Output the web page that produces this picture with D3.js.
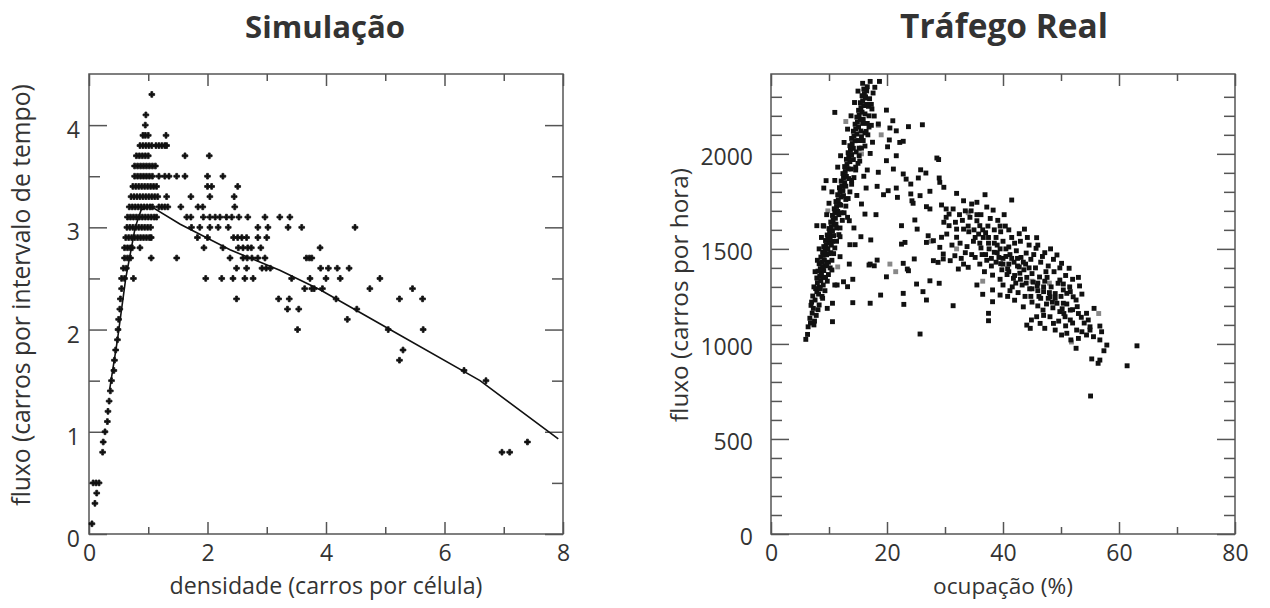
<!DOCTYPE html>
<html>
<head>
<meta charset="utf-8">
<script src="https://cdn.jsdelivr.net/npm/d3@7"></script>
<style>
  body { margin: 0; background: #fff; }
  text { font-family: "Open Sans", "Noto Sans", sans-serif; fill: #333; }
</style>
</head>
<body>
<svg id="chart" width="1270" height="608"></svg>
<script>
(function(d3) {
    'use strict';

    // Simulação: rows of equal flow, each with the densities seen on that row
    var simRows = [
        [4.3, [1.06]],
        [4.1, [0.96]],
        [4.0, [0.95]],
        [3.9, [0.91, 0.95, 1.0, 1.30]],
        [3.8, [0.86, 0.91, 0.96, 1.01, 1.06, 1.13, 1.18, 1.23, 1.28, 1.31]],
        [3.7, [0.80, 0.85, 0.90, 0.95, 1.00, 1.62, 2.03]],
        [3.6, [0.77, 0.82, 0.87, 0.92, 0.97, 1.02, 1.07, 1.12]],
        [3.5, [0.77, 0.82, 0.87, 0.92, 0.97, 1.02, 1.07, 1.18, 1.28, 1.35, 1.48, 1.62, 2.00, 2.26]],
        [3.4, [0.74, 0.79, 0.84, 0.89, 0.94, 0.99, 1.04, 1.09, 1.14, 2.00, 2.07, 2.51]],
        [3.3, [0.71, 0.76, 0.81, 0.86, 0.91, 0.96, 1.01, 1.06, 1.11, 1.16, 1.31, 1.72, 2.04, 2.45]],
        [3.2, [0.68, 0.73, 0.78, 0.83, 0.88, 0.93, 0.98, 1.03, 1.07, 1.18, 1.23, 1.28, 1.33, 1.55, 1.84, 1.92, 2.46]],
        [3.1, [0.65, 0.70, 0.75, 0.80, 0.85, 0.90, 0.95, 1.00, 1.05, 1.10, 1.14, 1.65, 1.72, 1.93, 2.04, 2.13, 2.21, 2.32, 2.41, 2.53, 2.68, 2.97, 3.22, 3.39]],
        [3.0, [0.64, 0.69, 0.74, 0.79, 0.84, 0.89, 0.94, 0.99, 1.04, 1.73, 1.87, 2.04, 2.18, 2.35, 2.85, 3.02, 3.36, 3.59, 4.49]],
        [2.9, [0.62, 0.67, 0.72, 0.77, 0.82, 0.87, 0.92, 0.97, 1.02, 1.05, 1.83, 2.00, 2.44, 2.51, 2.58, 2.66, 2.85, 3.00]],
        [2.8, [0.60, 0.65, 0.70, 0.73, 0.86, 1.94, 2.26, 2.52, 2.60, 2.68, 2.74, 2.90, 3.90]],
        [2.7, [0.60, 0.65, 0.70, 1.05, 1.48, 2.38, 2.60, 2.67, 2.75, 2.85, 2.97, 3.67, 3.72, 3.76]],
        [2.6, [0.58, 0.63, 2.49, 2.66, 2.92, 2.99, 3.06, 3.91, 4.04, 4.19, 4.39]],
        [2.5, [0.55, 0.60, 0.75, 1.97, 2.24, 2.43, 2.63, 2.77, 3.42, 3.73, 4.00, 4.24, 4.91]],
        [2.4, [0.55, 3.64, 3.76, 3.80, 3.94, 4.74, 5.46]],
        [2.3, [0.53, 2.49, 3.20, 3.38, 4.17, 5.24, 5.63]],
        [2.2, [0.52, 3.35, 3.54, 4.52]],
        [2.1, [0.50, 4.36]],
        [2.0, [0.49, 3.52, 5.05, 5.64]],
        [1.9, [0.48]],
        [1.8, [0.45, 5.30]],
        [1.7, [0.43, 5.24]],
        [1.6, [0.42, 6.33]],
        [1.5, [0.38, 6.70]],
        [1.4, [0.36]],
        [1.3, [0.34]],
        [1.2, [0.32]],
        [1.1, [0.31]],
        [1.0, [0.27]],
        [0.9, [0.24, 7.40]],
        [0.8, [0.23, 6.97, 7.10]],
        [0.5, [0.07, 0.12, 0.17]],
        [0.4, [0.13]],
        [0.3, [0.10]],
        [0.1, [0.05]]
    ];

    // Simulação: fitted curve (densidade, fluxo)
    var simCurve = [
        [0.35, 1.42], [0.48, 1.90], [0.62, 2.50], [0.78, 3.00], [0.88, 3.17], [1.03, 3.21],
        [1.54, 3.03], [2.38, 2.78], [3.22, 2.58], [3.90, 2.39], [5.08, 2.00], [6.60, 1.50], [7.92, 0.93]
    ];

    // Tráfego Real: free-flow branch (ocupação %, fluxo)
    var realFree = [
        [6.0, 1024], [6.4, 1090], [6.7, 1135], [7.1, 1162], [7.3, 1187], [6.9, 1203], [7.6, 1231], [7.2, 1252],
        [7.9, 1275], [8.2, 1262], [7.7, 1291], [8.3, 1298], [9.0, 1310], [8.0, 1322], [8.6, 1333], [7.9, 1347],
        [8.4, 1356], [8.7, 1371], [8.1, 1383], [9.1, 1386], [8.5, 1396], [8.9, 1407], [9.4, 1411], [8.3, 1422],
        [8.8, 1431], [9.2, 1441], [8.6, 1457], [9.0, 1466], [9.6, 1469], [8.9, 1482], [9.3, 1489], [9.8, 1501],
        [9.1, 1512], [9.5, 1519], [10.0, 1532], [9.4, 1544], [9.8, 1551], [10.2, 1561], [9.7, 1573], [10.1, 1586],
        [10.6, 1594], [10.0, 1607], [10.4, 1617], [10.9, 1629], [10.3, 1641], [10.7, 1653], [11.1, 1661], [10.6, 1676],
        [11.0, 1689], [11.5, 1697], [10.9, 1711], [11.3, 1723], [11.8, 1734], [11.2, 1749], [11.6, 1758], [12.1, 1773],
        [11.5, 1785], [11.9, 1797], [12.4, 1807], [11.8, 1822], [12.2, 1831], [12.7, 1846], [12.1, 1857], [12.5, 1871],
        [13.0, 1881], [12.4, 1896], [12.8, 1907], [13.3, 1921], [12.7, 1933], [13.1, 1944], [13.6, 1959], [13.0, 1971],
        [13.4, 1981], [13.9, 1996], [13.3, 2006], [13.7, 2019], [14.2, 2029], [13.6, 2043], [14.0, 2054], [14.5, 2069],
        [13.9, 2081], [14.3, 2093], [14.8, 2104], [14.2, 2119], [14.6, 2131], [15.1, 2141], [14.5, 2156], [14.9, 2167],
        [15.4, 2181], [14.8, 2193], [15.2, 2204], [15.7, 2219], [15.1, 2229], [15.5, 2243], [16.0, 2254], [15.4, 2269],
        [15.8, 2279], [16.3, 2293], [15.7, 2306], [16.1, 2317], [16.5, 2331], [16.0, 2341], [16.6, 2353], [15.8, 2371],
        [17.1, 2381], [18.7, 2381], [16.3, 2300], [17.0, 2290], [16.8, 2250], [17.4, 2236], [16.7, 2100], [17.1, 2002],
        [17.5, 2061], [15.9, 2181], [16.9, 2141], [17.8, 2199], [16.2, 2041], [15.3, 1962], [16.0, 1882], [14.8, 1781],
        [16.4, 2118], [17.3, 2150], [15.6, 2090], [15.2, 2030], [14.6, 1930], [13.9, 1860], [12.9, 1760], [12.1, 1690],
        [11.3, 1610], [10.6, 1540], [10.3, 1480], [9.9, 1430], [9.4, 1350], [8.8, 1250], [8.1, 1180], [7.5, 1120],
        [7.4, 1100], [7.8, 1150], [8.3, 1205], [8.9, 1240], [9.3, 1280], [9.7, 1330], [9.9, 1365], [10.2, 1400],
        [10.5, 1440], [10.8, 1475], [11.0, 1505], [11.3, 1540], [11.7, 1575], [11.9, 1610], [12.3, 1650], [12.6, 1690],
        [12.9, 1725], [13.3, 1765], [13.6, 1800], [13.9, 1840], [14.3, 1875], [14.6, 1915], [15.0, 1950], [15.2, 1990],
        [15.6, 2030], [15.9, 2070], [16.2, 2110], [16.6, 2160], [16.9, 2200], [17.3, 2260], [17.6, 2320], [17.9, 2350],
        [6.3, 1050], [6.8, 1110], [7.0, 1220], [7.4, 1300], [7.6, 1380], [8.0, 1440], [8.3, 1500], [8.7, 1560],
        [9.1, 1620], [9.6, 1680], [10.0, 1740], [10.5, 1800], [11.0, 1860], [11.5, 1930], [12.0, 1990], [12.6, 2060],
        [13.2, 2130], [13.8, 2200], [14.4, 2270], [15.0, 2330], [8.5, 1290], [9.0, 1350], [9.6, 1420], [10.0, 1475],
        [10.4, 1520], [10.8, 1570], [11.2, 1630], [11.7, 1680], [12.0, 1730], [12.5, 1780], [12.9, 1830], [13.4, 1870],
        [13.8, 1920], [14.2, 1970], [14.7, 2010], [15.1, 2070], [15.5, 2120], [15.8, 2160], [16.2, 2210], [16.5, 2260]
    ];

    // Tráfego Real: scattered transition points
    var realMid = [
        [11.0, 2218], [19.9, 2230], [21.0, 2174], [18.5, 2157], [20.5, 2136], [21.6, 2121], [23.7, 2143], [26.1, 2153],
        [20.4, 2073], [22.2, 2060], [22.8, 2066], [20.1, 2037], [21.6, 1990], [19.9, 1964], [28.6, 1978], [28.9, 1970],
        [16.6, 1915], [18.5, 1903], [21.1, 1920], [22.8, 1894], [25.8, 1916], [26.7, 1899], [23.3, 1867], [24.1, 1841],
        [25.4, 1873], [29.0, 1873], [29.1, 1850], [29.8, 1824], [9.5, 1859], [9.1, 1820], [16.4, 1820], [18.3, 1829],
        [21.6, 1820], [20.2, 1806], [19.4, 1785], [24.1, 1789], [24.3, 1753], [25.7, 1780], [27.4, 1803], [21.8, 1771],
        [24.5, 1740], [26.8, 1722], [27.4, 1710], [29.4, 1731], [30.2, 1710], [15.6, 1736], [16.2, 1683], [18.1, 1680],
        [13.2, 1666], [13.5, 1648], [24.8, 1652], [7.9, 1622], [9.0, 1622], [14.3, 1610], [22.5, 1622], [25.2, 1604],
        [27.1, 1569], [28.0, 1543], [11.9, 1564], [15.5, 1564], [17.2, 1547], [13.6, 1522], [14.5, 1522], [22.5, 1525],
        [23.1, 1534], [26.8, 1534], [11.9, 1459], [18.3, 1441], [17.8, 1411], [17.1, 1420], [13.5, 1420], [22.8, 1424],
        [23.5, 1394], [24.7, 1447], [28.0, 1438], [28.8, 1429], [16.9, 1415], [10.5, 1389], [23.7, 1385], [19.9, 1353],
        [14.1, 1340], [12.5, 1327], [11.4, 1310], [13.2, 1301], [25.1, 1315], [26.2, 1275], [26.8, 1231], [27.4, 1332],
        [29.0, 1319], [22.8, 1266], [22.9, 1208], [18.9, 1257], [14.1, 1217], [17.1, 1214], [10.6, 1214], [9.7, 1187],
        [10.6, 1117], [25.7, 1052], [11.0, 1310]
    ];

    // Tráfego Real: congested branch
    var realCongested = [
        [31.4, 1710], [30.7, 1683], [32.0, 1792], [33.2, 1753], [34.6, 1736], [35.5, 1745], [36.9, 1785], [38.3, 1704],
        [41.5, 1757], [30.2, 1666], [29.8, 1640], [30.7, 1622], [34.3, 1666], [35.5, 1648], [36.0, 1622], [32.0, 1604],
        [33.2, 1604], [32.0, 1561], [29.4, 1561], [30.3, 1578], [29.1, 1508], [29.7, 1473], [31.2, 1520], [32.6, 1530],
        [33.8, 1512], [34.9, 1540], [36.2, 1505], [37.5, 1530], [38.8, 1560], [39.6, 1590], [40.4, 1620], [37.0, 1585],
        [35.8, 1578], [34.1, 1590], [43.7, 1604], [45.8, 1559], [45.7, 1503], [39.1, 1650], [40.2, 1680], [37.8, 1660],
        [29.7, 1447], [30.9, 1438], [31.7, 1464], [32.3, 1394], [33.2, 1420], [34.0, 1403], [35.2, 1455], [36.4, 1470],
        [37.2, 1440], [38.5, 1482], [39.3, 1455], [40.5, 1500], [41.2, 1470], [42.3, 1490], [43.1, 1455], [44.0, 1478],
        [38.0, 1410], [39.6, 1422], [40.8, 1395], [41.9, 1430], [42.8, 1405], [43.9, 1420], [44.8, 1445], [45.6, 1400],
        [46.5, 1430], [36.8, 1380], [38.2, 1362], [39.5, 1340], [40.7, 1365], [41.8, 1345], [42.9, 1372], [44.1, 1350],
        [45.2, 1325], [46.3, 1352], [47.4, 1380], [48.7, 1445], [49.3, 1468], [50.1, 1424], [51.4, 1398], [43.3, 1310],
        [44.6, 1290], [45.9, 1305], [47.0, 1275], [48.1, 1248], [49.3, 1214], [50.4, 1214], [51.6, 1178], [51.0, 1266],
        [52.1, 1248], [50.4, 1284], [49.5, 1319], [48.3, 1300], [47.2, 1330], [49.8, 1336], [50.4, 1315], [53.2, 1305],
        [53.6, 1262], [51.6, 1275], [52.6, 1231], [52.8, 1196], [46.9, 1178], [45.8, 1143], [44.9, 1126], [44.1, 1099],
        [46.4, 1108], [47.2, 1082], [44.7, 1082], [48.1, 1143], [49.8, 1170], [50.7, 1143], [51.6, 1126], [48.7, 1108],
        [49.0, 1073], [50.1, 1047], [51.0, 1056], [52.7, 1073], [53.6, 1064], [53.0, 1029], [51.7, 1021], [52.6, 977],
        [54.4, 1047], [55.0, 1073], [55.6, 1038], [55.7, 1187], [54.4, 1161], [54.7, 1126], [56.7, 1094], [57.0, 1064],
        [56.7, 1021], [57.9, 994], [57.4, 964], [55.3, 921], [56.7, 915], [56.4, 898], [63.1, 990], [61.4, 885],
        [55.1, 726], [35.5, 1310], [36.5, 1261], [38.2, 1284], [38.2, 1222], [39.5, 1257], [37.5, 1161], [37.5, 1122],
        [31.4, 1201], [42.0, 1230], [43.5, 1195], [45.0, 1220], [41.2, 1280], [40.0, 1310], [46.2, 1250], [47.5, 1210],
        [39.0, 1520], [40.0, 1540], [41.0, 1510], [42.0, 1530], [38.5, 1600], [37.4, 1620], [36.6, 1560], [35.0, 1600],
        [43.0, 1540], [44.5, 1520], [41.5, 1560], [42.5, 1450], [40.0, 1450], [38.8, 1430], [37.6, 1500], [46.8, 1460],
        [47.8, 1410], [48.8, 1380], [45.0, 1370], [43.6, 1390], [42.2, 1320], [44.8, 1250], [46.0, 1280], [47.8, 1240],
        [49.0, 1265], [50.2, 1185], [48.6, 1190], [47.0, 1150], [52.0, 1110], [53.5, 1140], [50.8, 1095], [49.6, 1120],
        [46.0, 1200], [39.8, 1390], [41.0, 1420], [36.0, 1420], [34.6, 1470], [33.5, 1480], [32.8, 1450],
        [33.0, 1650], [34.0, 1620], [35.2, 1560], [36.0, 1530], [37.0, 1470], [38.0, 1450], [39.0, 1480], [40.0, 1420],
        [41.0, 1380], [42.0, 1360], [43.0, 1340], [44.0, 1320], [45.0, 1290], [46.0, 1320], [47.0, 1300], [48.0, 1270],
        [49.0, 1240], [50.0, 1250], [51.0, 1210], [52.0, 1180], [53.0, 1160], [54.0, 1110], [55.0, 1090], [50.5, 1160],
        [48.5, 1220], [46.5, 1240], [44.5, 1400], [43.5, 1430], [42.5, 1410], [41.5, 1450], [40.5, 1460], [39.5, 1500],
        [38.5, 1530], [37.5, 1560], [36.5, 1600], [35.5, 1680], [34.5, 1700], [33.5, 1700], [32.5, 1680], [31.8, 1640],
        [36.2, 1680], [37.2, 1720], [39.5, 1620], [41.0, 1600], [42.8, 1580], [44.2, 1560], [46.0, 1520], [47.2, 1480],
        [48.2, 1500], [49.8, 1400], [50.8, 1360], [52.0, 1340], [53.0, 1350], [51.5, 1300], [47.6, 1350], [45.3, 1470],
        [43.8, 1250], [42.6, 1270], [41.6, 1300], [40.8, 1250]
    ];

    // Tráfego Real: lighter (grey) marks
    var realGrey = [
        [12.9, 2170], [15.6, 2000], [9.8, 1700], [18.5, 2150], [27.6, 1540], [32.0, 1500], [36.5, 1330], [45.0, 1330],
        [51.8, 1010], [56.5, 1160], [20.5, 1420], [11.5, 1405], [19.0, 2100], [21.5, 1380], [34.0, 1690], [48.0, 1320]
    ];

    // tick labels
    var simXMajor = [0, 2, 4, 6, 8], simXMinor = [1, 3, 5, 7];
    var simYMajor = [0, 1, 2, 3, 4], simYMinor = [0.5, 1.5, 2.5, 3.5];
    var realXMajor = [0, 20, 40, 60, 80], realXMinor = [10, 30, 50, 70];
    var realYMajor = [0, 500, 1000, 1500, 2000];
    var realYMinor = [100, 200, 300, 400, 600, 700, 800, 900, 1100, 1200, 1300, 1400,
        1600, 1700, 1800, 1900, 2100, 2200, 2300];

    var svg = d3.select('#chart');

    var xSim = d3.scaleLinear().domain([0, 8]).range([89, 563]);
    var ySim = d3.scaleLinear().domain([0, 4.5]).range([534, 74]);
    var xReal = d3.scaleLinear().domain([0, 80]).range([771, 1235]);
    var yReal = d3.scaleLinear().domain([0, 2420]).range([534, 74]);

    function fit(t, w) {
        var size = +t.attr('font-size');
        var len = t.node().getComputedTextLength();
        t.attr('font-size', size * w / len);
        return t;
    }

    function clean(g) {
        g.select('.domain').remove();
        g.selectAll('.tick line').attr('stroke', '#555').attr('stroke-width', 1.5);
        g.selectAll('.tick text').attr('fill', '#333').attr('font-size', 23);
    }

    function frame(x, y, o) {
        var g = svg.append('g');
        var xr = x.range(), yr = y.range();
        var blank = function() { return ''; };

        g.append('g').attr('transform', 'translate(0,' + yr[0] + ')')
            .call(d3.axisBottom(x).tickValues(o.xMajor).tickSize(-12).tickPadding(11).tickFormat(d3.format('d')))
            .call(clean);
        g.append('g').attr('transform', 'translate(0,' + yr[0] + ')')
            .call(d3.axisBottom(x).tickValues(o.xMinor).tickSize(-7).tickFormat(blank)).call(clean);
        g.append('g').attr('transform', 'translate(0,' + yr[1] + ')')
            .call(d3.axisTop(x).tickValues(o.xMajor).tickSize(-12).tickFormat(blank)).call(clean);
        g.append('g').attr('transform', 'translate(0,' + yr[1] + ')')
            .call(d3.axisTop(x).tickValues(o.xMinor).tickSize(-7).tickFormat(blank)).call(clean);

        g.append('g').attr('transform', 'translate(' + xr[0] + ',0)')
            .call(d3.axisLeft(y).tickValues(o.yMajor).tickSize(-18).tickPadding(o.pad).tickFormat(d3.format('d')))
            .call(clean)
            .selectAll('.tick text').attr('dy', o.dy);
        g.append('g').attr('transform', 'translate(' + xr[0] + ',0)')
            .call(d3.axisLeft(y).tickValues(o.yMinor).tickSize(-11).tickFormat(blank)).call(clean);
        g.append('g').attr('transform', 'translate(' + xr[1] + ',0)')
            .call(d3.axisRight(y).tickValues(o.yMajor).tickSize(-18).tickFormat(blank)).call(clean);
        g.append('g').attr('transform', 'translate(' + xr[1] + ',0)')
            .call(d3.axisRight(y).tickValues(o.yMinor).tickSize(-11).tickFormat(blank)).call(clean);

        g.append('rect')
            .attr('x', xr[0]).attr('y', yr[1])
            .attr('width', xr[1] - xr[0]).attr('height', yr[0] - yr[1])
            .attr('fill', 'none').attr('stroke', '#555').attr('stroke-width', 1.5);
    }

    frame(xSim, ySim, {xMajor: simXMajor, xMinor: simXMinor, yMajor: simYMajor, yMinor: simYMinor, pad: 9, dy: '0.55em'});
    frame(xReal, yReal, {xMajor: realXMajor, xMinor: realXMinor, yMajor: realYMajor, yMinor: realYMinor, pad: 18, dy: '0.45em'});

    // simulation marks
    var simPoints = [];
    simRows.forEach(function(r) {
        r[1].forEach(function(d) { simPoints.push([d, r[0]]); });
    });

    svg.append('path')
        .datum(simCurve)
        .attr('fill', 'none')
        .attr('stroke', '#111')
        .attr('stroke-width', 1.6)
        .attr('d', d3.line().x(function(d) { return xSim(d[0]); }).y(function(d) { return ySim(d[1]); }));

    svg.append('g').selectAll('path')
        .data(simPoints)
        .join('path')
        .attr('transform', function(d) { return 'translate(' + xSim(d[0]) + ',' + ySim(d[1]) + ')'; })
        .attr('d', d3.symbol(d3.symbolCross, 18))
        .attr('fill', '#111')
        .attr('stroke', '#111')
        .attr('stroke-width', 0.8);

    // real traffic marks
    var realMark = d3.symbol(d3.symbolSquare, 24);
    svg.append('g').selectAll('path')
        .data(realGrey)
        .join('path')
        .attr('transform', function(d) { return 'translate(' + xReal(d[0]) + ',' + yReal(d[1]) + ')'; })
        .attr('d', realMark)
        .attr('fill', '#888');
    svg.append('g').selectAll('path')
        .data(realFree.concat(realMid, realCongested))
        .join('path')
        .attr('transform', function(d) { return 'translate(' + xReal(d[0]) + ',' + yReal(d[1]) + ')'; })
        .attr('d', realMark)
        .attr('fill', '#111');

    // titles
    fit(svg.append('text').attr('x', 325).attr('y', 38).attr('text-anchor', 'middle')
        .attr('font-size', 34).attr('font-weight', 700).text('Simulação'), 160);
    fit(svg.append('text').attr('x', 1004).attr('y', 38).attr('text-anchor', 'middle')
        .attr('font-size', 34).attr('font-weight', 700).text('Tráfego Real'), 208);

    // axis titles
    fit(svg.append('text').attr('x', 326).attr('y', 594).attr('text-anchor', 'middle')
        .attr('font-size', 22).text('densidade (carros por célula)'), 313);
    fit(svg.append('text').attr('x', 1003).attr('y', 594).attr('text-anchor', 'middle')
        .attr('font-size', 22).text('ocupação (%)'), 140);
    fit(svg.append('text').attr('transform', 'translate(30,295) rotate(-90)').attr('text-anchor', 'middle')
        .attr('font-size', 22).text('fluxo (carros por intervalo de tempo)'), 422);
    fit(svg.append('text').attr('transform', 'translate(688,295) rotate(-90)').attr('text-anchor', 'middle')
        .attr('font-size', 22).text('fluxo (carros por hora)'), 254);

}(d3));
</script>
</body>
</html>
